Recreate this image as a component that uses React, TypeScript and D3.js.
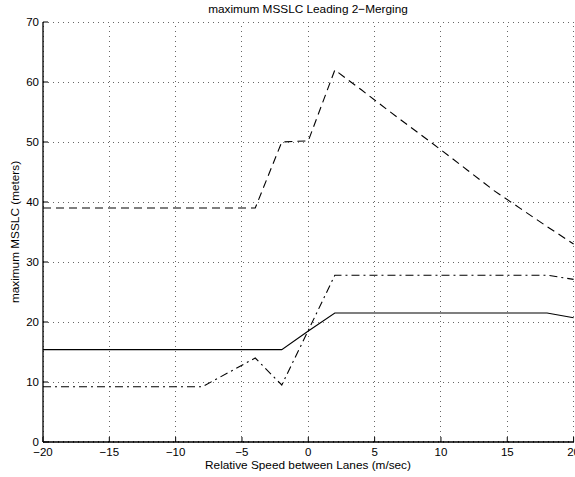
import React from "react";
import * as d3 from "d3";

const xs = [-20, -18, -16, -14, -12, -10, -8, -6, -4, -2, 0, 2, 4, 6, 8, 10, 12, 14, 16, 18, 20];
const dashedY = [39, 39, 39, 39, 39, 39, 39, 39, 39, 50, 50.2, 62, 58.7, 55.3, 52, 48.7, 45.3, 41.9, 38.9, 35.9, 33];
const solidY = [15.4, 15.4, 15.4, 15.4, 15.4, 15.4, 15.4, 15.4, 15.4, 15.4, 18.5, 21.5, 21.5, 21.5, 21.5, 21.5, 21.5, 21.5, 21.5, 21.5, 20.7];
const dashDotY = [9.2, 9.2, 9.2, 9.2, 9.2, 9.2, 9.2, 11.6, 14, 9.5, 18.6, 27.8, 27.8, 27.8, 27.8, 27.8, 27.8, 27.8, 27.8, 27.8, 27.1];
const xTicks = [-20, -15, -10, -5, 0, 5, 10, 15, 20];
const yTicks = [0, 10, 20, 30, 40, 50, 60, 70];

const title = "maximum MSSLC Leading 2\u2212Merging";
const xLabel = "Relative Speed between Lanes (m/sec)";
const yLabel = "maximum MSSLC (meters)";

export default function App() {
  const W = 575, H = 477;
  const L = 43, R = 573.6, T = 22, B = 442;
  const x = d3.scaleLinear().domain([-20, 20]).range([L, R]);
  const y = d3.scaleLinear().domain([0, 70]).range([B, T]);
  const line = (ys: number[]) =>
    d3.line<number>().x((_, i) => x(xs[i])).y((d) => y(d))(ys) || "";
  const font = "'Liberation Sans', Arial, Helvetica, sans-serif";
  const fmt = (v: number) => (v < 0 ? "\u2212" + Math.abs(v) : String(v));
  return (
    <svg width={W} height={H} style={{ position: "absolute", left: 0, top: 0, background: "#fff" }}
      fontFamily={font}>
      <rect x={0} y={0} width={W} height={H} fill="#fff" />
      {xTicks.map((t) => (
        <line key={"gx" + t} x1={x(t)} x2={x(t)} y1={B} y2={T} stroke="#666" strokeWidth={1}
          strokeDasharray="1,4" shapeRendering="crispEdges" />
      ))}
      {yTicks.map((t) => (
        <line key={"gy" + t} x1={L} x2={R} y1={y(t)} y2={y(t)} stroke="#666" strokeWidth={1}
          strokeDasharray="1,4" shapeRendering="crispEdges" />
      ))}
      <line x1={L} x2={R} y1={B - 1} y2={B - 1} stroke="#333" strokeDasharray="1,4" shapeRendering="crispEdges" />
      <line x1={L} x2={L} y1={B} y2={T} stroke="#000" strokeWidth={1.3} />
      <line x1={L} x2={R} y1={B} y2={B} stroke="#000" strokeWidth={1.3} />
      {yTicks.map((t) => (
        <g key={"ty" + t}>
          <line x1={L} x2={L + 5} y1={y(t)} y2={y(t)} stroke="#000" />
          <text x={L - 4} y={y(t) + 4} fontSize={11.5} textAnchor="end" fill="#000">{t}</text>
        </g>
      ))}
      {xTicks.map((t) => (
        <g key={"tx" + t}>
          <line x1={x(t)} x2={x(t)} y1={B} y2={B - 5} stroke="#000" />
          <text x={x(t)} y={B + 14} fontSize={11.5} textAnchor="middle" fill="#000">{fmt(t)}</text>
        </g>
      ))}
      <path d={line(solidY)} fill="none" stroke="#000" strokeWidth={1.1} />
      <path d={line(dashedY)} fill="none" stroke="#000" strokeWidth={1.1} strokeDasharray="8,5" />
      <path d={line(dashDotY)} fill="none" stroke="#000" strokeWidth={1.1} strokeDasharray="8,4,2,4" />
      <text x={308} y={13} fontSize={11.8} textAnchor="middle" fill="#000">{title}</text>
      <text x={308} y={469} fontSize={11.8} textAnchor="middle" fill="#000">{xLabel}</text>
      <text transform={`translate(19,${232}) rotate(-90)`} fontSize={11.8} textAnchor="middle" fill="#000">{yLabel}</text>
    </svg>
  );
}
